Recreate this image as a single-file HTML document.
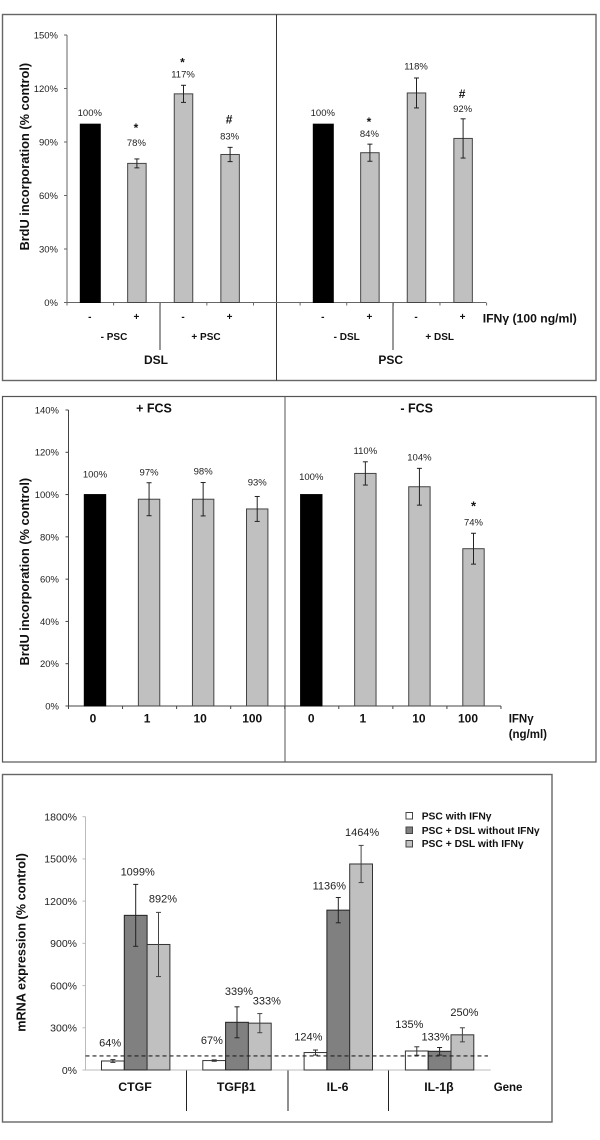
<!DOCTYPE html>
<html>
<head>
<meta charset="utf-8">
<title>BrdU incorporation and mRNA expression charts</title>
<style>
html,body{margin:0;padding:0;background:#fff;}
svg{display:block;font-family:"Liberation Sans",sans-serif;filter:blur(0.3px);}
text{fill:#222;}
.b{font-weight:bold;fill:#111;}
</style>
</head>
<body>
<svg id="fig" xmlns="http://www.w3.org/2000/svg" width="600" height="1140" viewBox="0 0 600 1140">
  <rect x="2.5" y="14.5" width="593.5" height="366" fill="#fff" stroke="#666" stroke-width="1.4"/>
  <line x1="276.5" y1="14.5" x2="276.5" y2="380.5" stroke="#333"/>
  <rect x="2.5" y="396.5" width="593.5" height="365.5" fill="#fff" stroke="#555" stroke-width="1.2"/>
  <line x1="285" y1="396.5" x2="285" y2="762" stroke="#555"/>
  <rect x="2.5" y="774.5" width="549.5" height="347.5" fill="#fff" stroke="#666" stroke-width="1.4"/>

  <text class="b" transform="translate(29,156.7) rotate(-90)" text-anchor="middle" font-size="12.8">BrdU incorporation (% control)</text>
  <text class="b" transform="translate(29,571.7) rotate(-90)" text-anchor="middle" font-size="12.8">BrdU incorporation (% control)</text>
  <text class="b" transform="translate(25.7,942.5) rotate(-90)" text-anchor="middle" font-size="12.7">mRNA expression (% control)</text>

  <g font-size="10">
    <text class="b" x="114" y="340" text-anchor="middle">- PSC</text>
    <text class="b" x="206" y="340" text-anchor="middle">+ PSC</text>
    <text class="b" x="346.7" y="340" text-anchor="middle">- DSL</text>
    <text class="b" x="439.7" y="340" text-anchor="middle">+ DSL</text>
  </g>
  <text class="b" x="156" y="364" text-anchor="middle" font-size="12">DSL</text>
  <text class="b" x="390.7" y="364" text-anchor="middle" font-size="12">PSC</text>
  <text class="b" x="482.7" y="322.7" font-size="12.2">IFNγ (100 ng/ml)</text>
  <line x1="160" y1="302.5" x2="160" y2="350" stroke="#333"/>
  <line x1="393" y1="302.5" x2="393" y2="350" stroke="#333"/>

  <text class="b" x="154" y="412.7" text-anchor="middle" font-size="12.5">+ FCS</text>
  <text class="b" x="416.7" y="412.7" text-anchor="middle" font-size="12.5">- FCS</text>
  <text class="b" x="508.7" y="722.7" font-size="11.5">IFNγ</text>
  <text class="b" x="508.7" y="738" font-size="11.5">(ng/ml)</text>

  <text class="b" x="493.7" y="1091" font-size="11.5">Gene</text>
  <line x1="186.5" y1="1070" x2="186.5" y2="1111" stroke="#222"/>
  <line x1="288" y1="1070" x2="288" y2="1111" stroke="#222"/>
  <line x1="388.5" y1="1070" x2="388.5" y2="1111" stroke="#222"/>

  <g font-size="10.3">
    <rect x="406" y="812.5" width="6.5" height="6.5" fill="#fff" stroke="#444"/>
    <text class="b" x="421.7" y="819.3">PSC with IFNγ</text>
    <rect x="406" y="827" width="6.5" height="6.5" fill="#808080" stroke="#444"/>
    <text class="b" x="421.7" y="834">PSC + DSL without IFNγ</text>
    <rect x="406" y="840.5" width="6.5" height="6.5" fill="#c0c0c0" stroke="#444"/>
    <text class="b" x="421.7" y="847">PSC + DSL with IFNγ</text>
  </g>
</svg>
<script>
// Panel A: DSL / PSC BrdU incorporation
const panelATicks = [0, 30, 60, 90, 120, 150];
const panelAValues = [100, 78, 117, 83, 100, 84, 117.5, 92];
const panelAErrors = [0, 2.5, 4.8, 4, 0, 4.8, 8.4, 11];
const panelAPrinted = ['100%', '78%', '117%', '83%', '100%', '84%', '118%', '92%'];
const panelAMarks = ['', '*', '*', '#', '', '*', '', '#'];
const panelACategories = ['-', '+', '-', '+', '-', '+', '-', '+'];

// Panel B: FCS BrdU incorporation
const panelBTicks = [0, 20, 40, 60, 80, 100, 120, 140];
const panelBValues = [100, 97.8, 97.8, 93.2, 100, 110, 103.7, 74.4];
const panelBErrors = [0, 7.8, 7.9, 5.9, 0, 5.5, 8.7, 7.3];
const panelBPrinted = ['100%', '97%', '98%', '93%', '100%', '110%', '104%', '74%'];
const panelBMarks = ['', '', '', '', '', '', '', '*'];
const panelBCategories = ['0', '1', '10', '100', '0', '1', '10', '100'];

// Panel C: mRNA expression
const panelCTicks = [0, 300, 600, 900, 1200, 1500, 1800];
const genes = ['CTGF', 'TGFβ1', 'IL-6', 'IL-1β'];
const pscWithIfn = [64, 67, 124, 135];
const dslWithoutIfn = [1099, 339, 1136, 133];
const dslWithIfn = [892, 333, 1464, 250];
const pscWithIfnErr = [10, 5, 18, 30];
const dslWithoutIfnErr = [220, 110, 90, 27];
const dslWithIfnErr = [228, 68, 132, 50];
const referenceLevel = 100;

const svg = document.getElementById('fig');
const NS = 'http://www.w3.org/2000/svg';
function make(tag, attrs, text) {
  const el = document.createElementNS(NS, tag);
  for (const k in attrs) el.setAttribute(k, attrs[k]);
  if (text !== undefined) el.textContent = text;
  svg.appendChild(el);
  return el;
}

function drawYAxis(prefix, ticks, yScale, x, xEnd, colour, labelX, fontSize, xTicks) {
  const axis = make('line', {x1: x, x2: x, y1: yScale(ticks[ticks.length - 1]), y2: yScale(0), stroke: colour});
  
  
  const base = make('line', {x1: x, x2: xEnd, y1: yScale(0), y2: yScale(0), stroke: colour});
  
  
  ticks.forEach(function (t) {
    const mark = make('line', {x1: x - 3, x2: x, y1: yScale(t), y2: yScale(t), stroke: colour});
    
    
    const lab = make('text', {x: labelX, y: yScale(t) + fontSize * 0.36, 'text-anchor': 'end', 'font-size': fontSize}, t + '%');
    
    
  });
  xTicks.forEach(function (tx) {
    const mark = make('line', {x1: tx, x2: tx, y1: yScale(0), y2: yScale(0) + 3, stroke: colour});
    
    
  });
}

function drawError(prefix, cx, value, err, yScale, colour) {
  const top = yScale(value + err), bottom = yScale(value - err);
  const stem = make('line', {x1: cx, x2: cx, y1: top, y2: bottom, stroke: colour});
  
  
  [top, bottom].forEach(function (y) {
    const cap = make('line', {x1: cx - 2.5, x2: cx + 2.5, y1: y, y2: y, stroke: colour});
    
    
  });
}

// Panel A layout: an empty category slot separates the DSL and PSC groups
const yA = function (v) { return 302.5 - v * 267.5 / 150; };
const xA = function (i) { return 90.3 + (i < 4 ? i : i + 1) * 46.6; };
const aXTicks = Array.from({length: 10}, function (_, i) { return 67 + i * 46.62; });
drawYAxis('panel-a', panelATicks, yA, 67, 486, '#666', 58, 9.5, aXTicks);
const aLift = [8, 13, 8, 8, 8, 7, 8.6, 7];
const aMarkLift = [0, 14, 11, 15.7, 0, 11, 0, 14];
panelAValues.forEach(function (v, i) {
  const black = v === 100 && panelAErrors[i] === 0;
  const w = black ? 20 : 18.5;
  const bar = make('rect', {x: xA(i) - w / 2, y: yA(v), width: w, height: yA(0) - yA(v), fill: black ? '#000' : '#c0c0c0', stroke: black ? '#000' : '#444'});
  
  
  if (panelAErrors[i]) drawError('panel-a', xA(i), v, panelAErrors[i], yA, '#222');
  const baseY = yA(v + panelAErrors[i]) - aLift[i];
  const lab = make('text', {x: xA(i) - 0.5, y: baseY, 'text-anchor': 'middle', 'font-size': 9.5}, panelAPrinted[i]);
  
  
  if (panelAMarks[i]) {
    const sig = make('text', {x: xA(i) - 1, y: baseY - aMarkLift[i], 'text-anchor': 'middle', 'font-size': 12, 'class': 'b'}, panelAMarks[i]);
    
    
  }
  const cat = make('text', {x: xA(i) - 0.5, y: 320, 'text-anchor': 'middle', 'font-size': 10, 'class': 'b'}, panelACategories[i]);
  
  
});

// Panel B layout
const yB = function (v) { return 706 - v * 296 / 140; };
const xB = function (i) { return 95 + i * 54.07; };
const bXTicks = Array.from({length: 9}, function (_, i) { return 68.5 + i * 54.06; });
drawYAxis('panel-b', panelBTicks, yB, 68.5, 501, '#444', 59, 9.5, bXTicks);
const bLift = [17, 7, 8, 11, 14.5, 8, 8, 8];
const bCatNudge = [-2, -2, -3, -5, 0, -2.5, -0.5, -5.5];
panelBValues.forEach(function (v, i) {
  const black = panelBErrors[i] === 0;
  const bar = make('rect', {x: xB(i) - 10.7, y: yB(v), width: 21.4, height: yB(0) - yB(v), fill: black ? '#000' : '#c0c0c0', stroke: black ? '#000' : '#444'});
  
  
  if (panelBErrors[i]) drawError('panel-b', xB(i), v, panelBErrors[i], yB, '#222');
  const baseY = yB(v + panelBErrors[i]) - bLift[i];
  const lab = make('text', {x: xB(i), y: baseY, 'text-anchor': 'middle', 'font-size': 9.5}, panelBPrinted[i]);
  
  
  if (panelBMarks[i]) {
    const sig = make('text', {x: xB(i), y: baseY - 15, 'text-anchor': 'middle', 'font-size': 13, 'class': 'b'}, panelBMarks[i]);
    
    
  }
  const cat = make('text', {x: xB(i) + bCatNudge[i], y: 722.7, 'text-anchor': 'middle', 'font-size': 12, 'class': 'b'}, panelBCategories[i]);
  
  
});

// Panel C layout
const yC = function (v) { return 1070 - v * 253.3 / 1800; };
const groupX = function (g) { return 101.5 + g * 101.3; };
const cXTicks = [];
drawYAxis('panel-c', panelCTicks, yC, 85.5, 490.7, '#bbb', 77, 10.5, cXTicks);
const cSeries = [
  {key: 'psc-with-ifn', vals: pscWithIfn, errs: pscWithIfnErr, fill: '#fff', stroke: '#333', errCol: '#333'},
  {key: 'dsl-without-ifn', vals: dslWithoutIfn, errs: dslWithoutIfnErr, fill: '#808080', stroke: '#222', errCol: '#222'},
  {key: 'dsl-with-ifn', vals: dslWithIfn, errs: dslWithIfnErr, fill: '#c0c0c0', stroke: '#333', errCol: '#444'}
];
const cLabelDx = [[-2.8, -2.3, -7.2, -7.5], [2, 2, -9, -4], [4.5, 7, 1, 2]];
const cLabelLift = [[13, 16, 9.4, 19], [9, 12, 8, 7], [10, 9, 9.6, 12]];
cSeries.forEach(function (s, si) {
  s.vals.forEach(function (v, g) {
    const x = groupX(g) + si * 22.8;
    const bar = make('rect', {x: x, y: yC(v), width: 22.8, height: yC(0) - yC(v), fill: s.fill, stroke: s.stroke});
    
    
  });
});
cSeries.forEach(function (s, si) {
  s.vals.forEach(function (v, g) {
    const cx = groupX(g) + si * 22.8 + 11.4;
    drawError('panel-c', cx, v, s.errs[g], yC, s.errCol);
    const lab = make('text', {x: cx + cLabelDx[si][g], y: yC(v + s.errs[g]) - cLabelLift[si][g], 'text-anchor': 'middle', 'font-size': 11}, v + '%');
    
    
  });
});
const refLine = make('line', {x1: 85.5, x2: 488, y1: yC(referenceLevel), y2: yC(referenceLevel), stroke: '#222', 'stroke-width': 1.2, 'stroke-dasharray': '4 3'});


genes.forEach(function (g, i) {
  const lab = make('text', {x: groupX(i) + 33.5, y: 1091, 'text-anchor': 'middle', 'font-size': 12.3, 'class': 'b'}, g);
  
  
});
</script>
</body>
</html>
